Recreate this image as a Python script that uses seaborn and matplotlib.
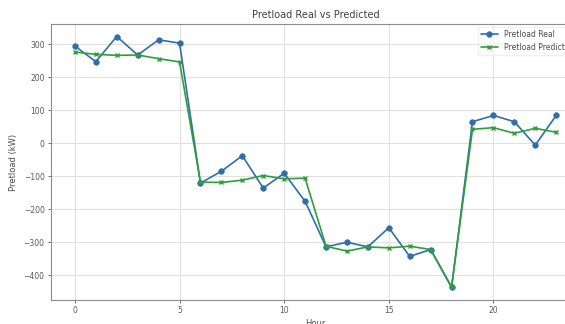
import numpy as np
import pandas as pd
import matplotlib
matplotlib.use("Agg")
import matplotlib.pyplot as plt
import seaborn as sns

hours = list(range(24))
pretload_real = [294, 247, 323, 267, 313, 303, -121, -85, -38, -136, -91, -176,
                 -314, -300, -314, -256, -343, -322, -437, 65, 84, 65, -6, 84]
pretload_predicted = [276, 269, 266, 267, 256, 246, -118, -119, -112, -98, -108, -106,
                      -312, -327, -314, -317, -312, -322, -435, 42, 47, 30, 45, 33]

df = pd.DataFrame({"Hour": hours, "Real": pretload_real, "Predicted": pretload_predicted})

sns.set_style("whitegrid", {
    "axes.edgecolor": "0.55",
    "grid.color": "0.88",
    "xtick.bottom": True,
    "ytick.left": True,
})
plt.rcParams["font.family"] = ["DejaVu Sans"]

fig = plt.figure(figsize=(5.65, 3.24), dpi=100)
ax = fig.add_axes([0.090, 0.074, 0.937, 0.852])

real_color = "#2f6fa8"
pred_color = "#2e9e3a"

sns.lineplot(data=df, x="Hour", y="Real", marker="o", markersize=4,
             markeredgewidth=0.5, markeredgecolor=real_color, color=real_color,
             linewidth=1.2, label="Pretload Real", ax=ax)
sns.lineplot(data=df, x="Hour", y="Predicted", marker="x", markersize=3,
             markeredgewidth=1.0, markeredgecolor=pred_color, color=pred_color,
             linewidth=1.2, linestyle="-", label="Pretload Predicted", ax=ax)

ax.set_title("Pretload Real vs Predicted", fontsize=7, color="0.25", pad=4)
ax.set_xlabel("Hour", fontsize=6, color="0.3", labelpad=3)
ax.set_ylabel("Pretload (kW)", fontsize=6, color="0.3", labelpad=4)
ax.set_xticks([0, 5, 10, 15, 20])
ax.set_yticks([-400, -300, -200, -100, 0, 100, 200, 300])
ax.tick_params(labelsize=5.5, colors="0.35", length=2.5, width=0.6, pad=2)
for s in ax.spines.values():
    s.set_linewidth(0.8)

leg = ax.legend(loc="upper right", fontsize=5.5, frameon=True, framealpha=0.6,
                edgecolor="0.9", handlelength=2.2, borderaxespad=0.4)
for t in leg.get_texts():
    t.set_color("0.3")

fig.savefig("out.png", dpi=100)
